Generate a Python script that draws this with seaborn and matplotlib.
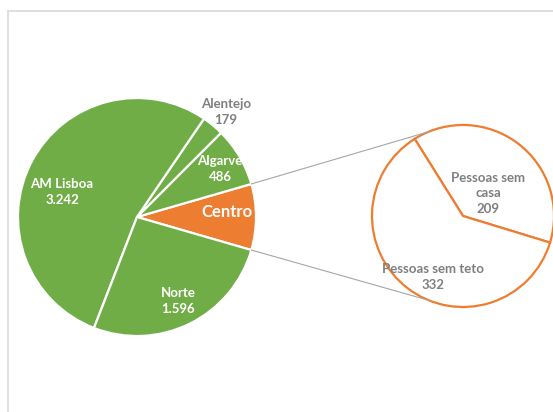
import matplotlib.pyplot as plt
import numpy as np
import seaborn as sns

# Sem-abrigo por região (Centro detalhado no segundo círculo)
regioes = ["Centro", "Algarve", "Alentejo", "AM Lisboa", "Norte"]
valores = [541, 486, 179, 3242, 1596]
rotulos = ["541", "486", "179", "3.242", "1.596"]
sub_labels = ["Pessoas sem\ncasa", "Pessoas sem teto"]
sub_valores = [209, 332]

GREEN = "#70AD47"
ORANGE = "#ED7D31"
GREY = "#7F7F7F"
H = 412

sns.set_theme(style="white")
plt.rcParams["font.family"] = ["Lato", "DejaVu Sans"]

fig = plt.figure(figsize=(5.53, 4.12), dpi=100)
ax = fig.add_axes([0, 0, 1, 1])

c1, r1 = (137, H - 217), 119
c2, r2 = (463, H - 216), 91

half = valores[0] / sum(valores) * 180
ax.pie(valores, colors=[ORANGE] + [GREEN] * 4, startangle=-half,
       center=c1, radius=r1,
       wedgeprops=dict(edgecolor="white", linewidth=1.6))
ax.pie(sub_valores, colors=["white", "white"], startangle=-17,
       center=c2, radius=r2,
       wedgeprops=dict(edgecolor=ORANGE, linewidth=1.6))

# connector lines
for a1, a2 in [(half, 112), (-half, 248)]:
    p1 = (c1[0] + r1 * np.cos(np.radians(a1)), c1[1] + r1 * np.sin(np.radians(a1)))
    p2 = (c2[0] + r2 * np.cos(np.radians(a2)), c2[1] + r2 * np.sin(np.radians(a2)))
    ax.plot([p1[0], p2[0]], [p1[1], p2[1]], color="#A6A6A6", lw=0.8)

# outer chart border
ax.plot([8, 8], [0, H - 11], color="#D9D9D9", lw=1.2)
ax.plot([8, 553], [H - 11, H - 11], color="#D9D9D9", lw=1.2)

kw = dict(ha="center", va="center", fontweight="bold", fontsize=9.5)
label_pos = {
    "AM Lisboa": (62, 192, "white"),
    "Norte": (178, 301, "white"),
    "Algarve": (220, 169, "white"),
    "Alentejo": (226, 112, GREY),
}
for reg, val in zip(regioes, rotulos):
    if reg in label_pos:
        x, y, col = label_pos[reg]
        ax.text(x, H - y, f"{reg}\n{val}", color=col, linespacing=1.45, **kw)
ax.text(227, H - 212, regioes[0], color="white", ha="center", va="center",
        fontweight="bold", fontsize=12)

ax.text(488, H - 193, f"{sub_labels[0]}\n{sub_valores[0]}", color=GREY,
        linespacing=1.35, **kw)
ax.text(433, H - 277, f"{sub_labels[1]}\n{sub_valores[1]}", color=GREY,
        linespacing=1.45, **kw)

ax.set_xlim(0, 553)
ax.set_ylim(0, H)
ax.set_aspect("equal")
ax.axis("off")

fig.savefig("out.png", dpi=100)
